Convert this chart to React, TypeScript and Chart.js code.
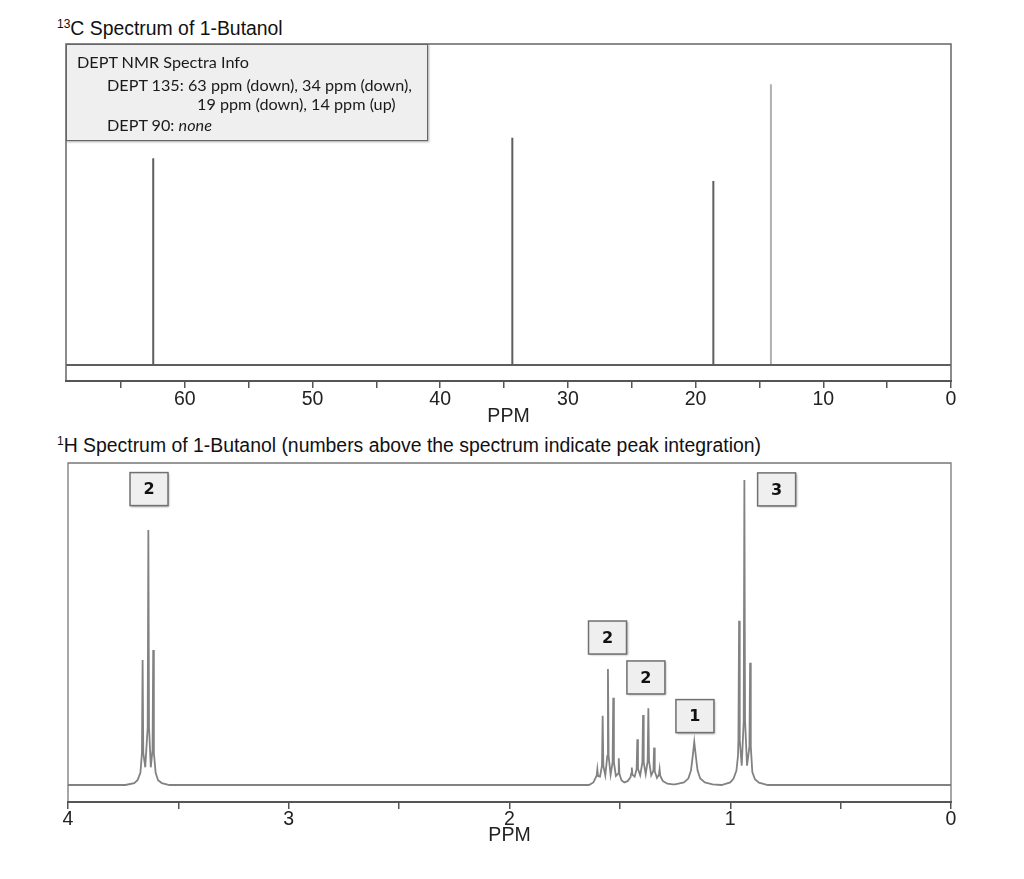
import React, { useEffect, useRef } from 'react';
import { Chart, registerables } from 'chart.js';

Chart.register(...registerables);

const SANS = '"Liberation Sans", Arial, Helvetica, sans-serif';
const BOX_FONT = 'Lato, "Open Sans", sans-serif';

// ---------- 13C spectrum data ----------
const cAxisMax = 69.3;
const cTickValues = [0, 5, 10, 15, 20, 25, 30, 35, 40, 45, 50, 55, 60, 65];
const cPeakPpm = [62.47, 34.35, 18.61, 14.1];
const cPeakHeight = [64.4, 70.8, 57.3, 87.5];
const cPeakDept135 = ['down', 'down', 'down', 'up'];

// ---------- 1H spectrum data (ppm, intensity) ----------
const hAxisMax = 4;
const hTickValues = [0, 0.5, 1, 1.5, 2, 2.5, 3, 3.5, 4];
const hOCH2: [number, number][] = [
  [3.74, 0], [3.7, 0.6], [3.685, 1.5], [3.672, 3.8], [3.665, 10], [3.662, 38.8], [3.659, 10],
  [3.65, 5.5], [3.639, 18], [3.636, 79.2], [3.633, 18], [3.625, 5.5], [3.617, 11], [3.614, 41.9],
  [3.611, 10], [3.603, 3.8], [3.592, 1.5], [3.575, 0.6], [3.54, 0],
];
const hCH2a: [number, number][] = [
  [1.64, 0], [1.62, 0.8], [1.61, 2.2], [1.605, 3], [1.602, 4.9], [1.599, 2.8], [1.59, 2.6],
  [1.581, 6], [1.578, 21.5], [1.575, 6], [1.566, 3], [1.557, 9], [1.554, 36.0], [1.551, 9],
  [1.542, 3.2], [1.533, 7], [1.53, 27.1], [1.527, 7], [1.518, 2.8], [1.508, 3.5], [1.505, 8.3],
  [1.502, 3.5], [1.493, 1.5], [1.48, 0.8],
];
const hCH2b: [number, number][] = [
  [1.465, 1.2], [1.452, 2.4], [1.449, 3.5], [1.446, 5.4], [1.443, 3.2], [1.433, 2.6], [1.424, 5],
  [1.421, 14.2], [1.418, 5], [1.408, 3], [1.398, 7], [1.395, 21.7], [1.392, 7], [1.383, 3.4],
  [1.374, 7.5], [1.371, 23.8], [1.368, 7.5], [1.358, 3], [1.348, 4.5], [1.345, 11.6], [1.342, 4.2],
  [1.332, 2.2], [1.323, 3.2], [1.32, 4.9], [1.317, 2.8], [1.305, 1.2], [1.285, 0.4], [1.26, 0.2],
];
const hOH: [number, number][] = [
  [1.25, 0.2], [1.21, 0.8], [1.19, 2], [1.178, 4.5], [1.17, 9], [1.163, 13.4], [1.156, 9],
  [1.148, 4.5], [1.136, 2], [1.115, 0.8], [1.08, 0.2],
];
const hCH3: [number, number][] = [
  [1.04, 0], [1.0, 0.8], [0.985, 2], [0.972, 4.5], [0.965, 9], [0.963, 14], [0.96, 51.0],
  [0.957, 14], [0.948, 6], [0.939, 20], [0.936, 94.7], [0.933, 20], [0.924, 6], [0.913, 12],
  [0.91, 38.0], [0.907, 12], [0.9, 4], [0.888, 1.8], [0.87, 0.7], [0.83, 0],
];
const integrationValues = ['2', '2', '2', '1', '3'];
const integrationPpm = [3.633, 1.556, 1.382, 1.16, 0.79];
const integrationLevel = [91.9, 45.8, 33.4, 21.4, 91.8];

const framePlugin = {
  id: 'frame',
  afterDatasetsDraw(chart: any, _args: any, opts: any) {
    const { ctx, chartArea: a } = chart;
    ctx.save();
    ctx.strokeStyle = opts.color || '#666';
    ctx.lineWidth = opts.width || 1.5;
    ctx.beginPath();
    ctx.moveTo(a.left, a.bottom);
    ctx.lineTo(a.left, a.top);
    ctx.lineTo(a.right, a.top);
    ctx.lineTo(a.right, a.bottom);
    ctx.stroke();
    ctx.strokeStyle = opts.axisColor || '#555';
    ctx.lineWidth = opts.axisWidth || 2;
    ctx.beginPath();
    ctx.moveTo(a.left - 1, a.bottom);
    ctx.lineTo(a.right + 1, a.bottom);
    ctx.stroke();
    ctx.restore();
  },
};

const integrationPlugin = {
  id: 'integrationLabels',
  afterDatasetsDraw(chart: any, _args: any, opts: any) {
    if (!opts || !opts.labels) return;
    const { ctx } = chart;
    const xs = chart.scales.x;
    const ys = chart.scales.y;
    const w = 38;
    const h = 33;
    ctx.save();
    opts.labels.forEach((t: string, i: number) => {
      const cx = xs.getPixelForValue(opts.ppm[i]);
      const cy = ys.getPixelForValue(opts.level[i]);
      ctx.save();
      ctx.shadowColor = 'rgba(0,0,0,0.35)';
      ctx.shadowBlur = 2;
      ctx.shadowOffsetX = 1;
      ctx.shadowOffsetY = 1;
      ctx.fillStyle = '#efefef';
      ctx.fillRect(cx - w / 2, cy - h / 2, w, h);
      ctx.restore();
      ctx.strokeStyle = '#707070';
      ctx.lineWidth = 1.5;
      ctx.strokeRect(cx - w / 2, cy - h / 2, w, h);
      ctx.fillStyle = '#111';
      ctx.font = 'bold 16px "DejaVu Sans", Verdana, sans-serif';
      ctx.textAlign = 'center';
      ctx.textBaseline = 'middle';
      ctx.fillText(t, cx, cy + 1);
    });
    ctx.restore();
  },
};

function buildCarbonData() {
  const down: any[] = [{ x: cAxisMax, y: 0 }];
  const up: any[] = [];
  cPeakPpm.forEach((p, i) => {
    if (cPeakDept135[i] === 'up') {
      up.push({ x: p, y: 0 }, { x: p, y: cPeakHeight[i] }, { x: p, y: null });
    } else {
      down.push({ x: p, y: 0 }, { x: p, y: cPeakHeight[i] }, { x: p, y: 0 });
    }
  });
  down.push({ x: 0, y: 0 });
  return { down, up };
}

function buildProtonData() {
  const pts: [number, number][] = [[hAxisMax, 0], ...hOCH2, ...hCH2a, ...hCH2b, ...hOH, ...hCH3, [0, 0]];
  return pts.map(([x, y]) => ({ x, y }));
}

const tickFont = { family: SANS, size: 19.5 };

function CarbonChart() {
  const ref = useRef<HTMLCanvasElement>(null);
  useEffect(() => {
    const { down, up } = buildCarbonData();
    const chart = new Chart(ref.current!, {
      type: 'scatter',
      data: {
        datasets: [
          { data: down, showLine: true, borderColor: '#5e5e5e', borderWidth: 2, pointRadius: 0, spanGaps: false },
          { data: up, showLine: true, borderColor: '#b0b0b0', borderWidth: 2, pointRadius: 0, spanGaps: false },
        ],
      },
      options: {
        animation: false,
        responsive: false,
        maintainAspectRatio: false,
        layout: { padding: { left: 66, right: 73, top: 44, bottom: 0 } },
        plugins: {
          legend: { display: false },
          tooltip: { enabled: false },
          frame: { color: '#666', width: 1.5, axisColor: '#555', axisWidth: 2 },
        } as any,
        scales: {
          x: {
            type: 'linear',
            min: 0,
            max: cAxisMax,
            reverse: true,
            afterBuildTicks: (s: any) => {
              s.ticks = cTickValues.map((v) => ({ value: v }));
            },
            afterFit: (s: any) => {
              s.height = 49;
            },
            border: { display: false },
            grid: { drawOnChartArea: false, drawTicks: true, tickLength: 7, color: '#555', lineWidth: 1.5 },
            ticks: {
              autoSkip: false,
              maxRotation: 0,
              padding: 0,
              color: '#222',
              font: tickFont,
              callback: (v: any) => (Number(v) % 10 === 0 ? String(v) : ''),
            },
            title: { display: true, text: 'PPM', color: '#222', font: tickFont, padding: { top: 0, bottom: 2 } },
          },
          y: { display: false, min: -4.98, max: 100 },
        },
      },
      plugins: [framePlugin],
    } as any);
    return () => chart.destroy();
  }, []);
  return <canvas ref={ref} width={1024} height={430} style={{ position: 'absolute', left: 0, top: 0, width: 1024, height: 430 }} />;
}

function ProtonChart() {
  const ref = useRef<HTMLCanvasElement>(null);
  useEffect(() => {
    const chart = new Chart(ref.current!, {
      type: 'scatter',
      data: {
        datasets: [
          { data: buildProtonData(), showLine: true, borderColor: '#828282', borderWidth: 1.8, pointRadius: 0, tension: 0 },
        ],
      },
      options: {
        animation: false,
        responsive: false,
        maintainAspectRatio: false,
        layout: { padding: { left: 68, right: 73, top: 33, bottom: 0 } },
        plugins: {
          legend: { display: false },
          tooltip: { enabled: false },
          frame: { color: '#777', width: 1.3, axisColor: '#555', axisWidth: 2 },
          integrationLabels: { labels: integrationValues, ppm: integrationPpm, level: integrationLevel },
        } as any,
        scales: {
          x: {
            type: 'linear',
            min: 0,
            max: hAxisMax,
            reverse: true,
            afterBuildTicks: (s: any) => {
              s.ticks = hTickValues.map((v) => ({ value: v }));
            },
            afterFit: (s: any) => {
              s.height = 77;
            },
            border: { display: false },
            grid: { drawOnChartArea: false, drawTicks: true, tickLength: 7, color: '#555', lineWidth: 1.5 },
            ticks: {
              autoSkip: false,
              maxRotation: 0,
              padding: -1,
              color: '#222',
              font: tickFont,
              callback: (v: any) => (Number.isInteger(Number(v)) ? String(v) : ''),
            },
            title: { display: true, text: 'PPM', color: '#222', font: tickFont, padding: { top: 0, bottom: 31.5 } },
          },
          y: { display: false, min: -5.28, max: 100 },
        },
      },
      plugins: [framePlugin, integrationPlugin],
    } as any);
    return () => chart.destroy();
  }, []);
  return <canvas ref={ref} width={1024} height={449} style={{ position: 'absolute', left: 0, top: 430, width: 1024, height: 449 }} />;
}

const lineStyle = (left: number, top: number): React.CSSProperties => ({
  position: 'absolute',
  left,
  top,
  whiteSpace: 'nowrap',
  lineHeight: '20px',
  fontFamily: BOX_FONT,
  fontSize: 16.2,
  color: '#1a1a1a',
});

const titleStyle = (top: number): React.CSSProperties => ({
  position: 'absolute',
  left: 57,
  top,
  fontFamily: SANS,
  fontSize: 19.4,
  color: '#111',
  whiteSpace: 'nowrap',
  lineHeight: '22px',
});

const supStyle: React.CSSProperties = { fontSize: 12, verticalAlign: 'top', lineHeight: '14px' };

export default function App() {
  return (
    <div style={{ position: 'fixed', left: 0, top: 0, width: 1024, height: 879, background: '#fff', overflow: 'hidden' }}>
      <div style={titleStyle(17)}>
        <sup style={supStyle}>13</sup>C Spectrum of 1-Butanol
      </div>
      <CarbonChart />
      <div
        style={{
          position: 'absolute',
          left: 66,
          top: 44,
          width: 362,
          height: 97,
          boxSizing: 'border-box',
          background: '#efefef',
          border: '1.5px solid #666',
          boxShadow: '1px 1px 2px rgba(0,0,0,0.35)',
        }}
      />
      <div style={lineStyle(77, 52)}>DEPT NMR Spectra Info</div>
      <div style={lineStyle(107, 75)}>DEPT 135: 63 ppm (down), 34 ppm (down),</div>
      <div style={lineStyle(197, 94)}>19 ppm (down), 14 ppm (up)</div>
      <div style={lineStyle(107, 115)}>
        DEPT 90: <i>none</i>
      </div>
      <div style={titleStyle(434)}>
        <sup style={supStyle}>1</sup>H Spectrum of 1-Butanol (numbers above the spectrum indicate peak integration)
      </div>
      <ProtonChart />
    </div>
  );
}
